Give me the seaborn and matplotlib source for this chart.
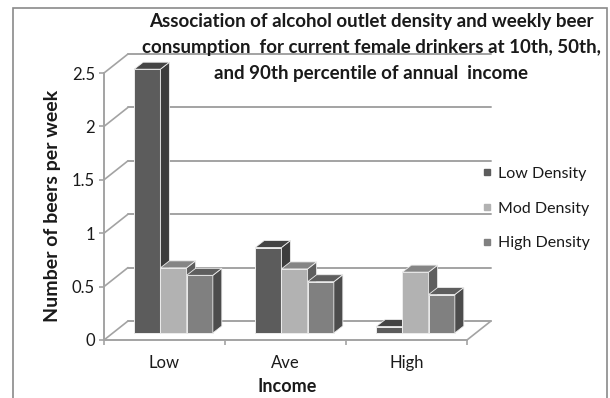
import matplotlib
matplotlib.use("Agg")
import matplotlib.pyplot as plt
from matplotlib.patches import Polygon, Rectangle
from matplotlib.lines import Line2D
import numpy as np
import pandas as pd
import seaborn as sns

# ---- data -------------------------------------------------------------
income = ["Low", "Ave", "High"]
densities = ["Low Density", "Mod Density", "High Density"]
low_density = [2.47, 0.80, 0.06]
mod_density = [0.61, 0.60, 0.57]
high_density = [0.54, 0.48, 0.36]
y_ticks = [0, 0.5, 1, 1.5, 2, 2.5]
y_tick_labels = ["0", "0.5", "1", "1.5", "2", "2.5"]

title_lines = [
    "Association of alcohol outlet density and weekly beer",
    "consumption  for current female drinkers at 10th, 50th,",
    "and 90th percentile of annual  income",
]

df = pd.DataFrame({
    "Income": income * 3,
    "Density": [d for d in densities for _ in income],
    "Beers": low_density + mod_density + high_density,
})

# face colours: front, side, top
front_cols = ["#5c5c5c", "#b2b2b2", "#808080"]
side_cols = ["#3c3c3c", "#5e5e5e", "#4c4c4c"]
top_cols = ["#444444", "#858585", "#5e5e5e"]
grid_col = "#a3a3a3"
text_col = "#1a1a1a"

sns.set_theme(style="white")
plt.rcParams["font.family"] = ["Lato", "DejaVu Sans"]

W, H = 610, 398
fig = plt.figure(figsize=(W / 100, H / 100), dpi=100)

# front plane of the 3-D box, in pixel placement
left_px, right_px, base_px, top_px = 104, 467, 340, 73
ax = fig.add_axes([left_px / W, 1 - base_px / H,
                   (right_px - left_px) / W, (base_px - top_px) / H])
ax.set_xlim(-0.5, 2.5)
ax.set_ylim(0, 2.5)

sx = (right_px - left_px) / 3.0      # pixels per category
sy = (base_px - top_px) / 2.5        # pixels per unit

def off(px, py):
    """pixel depth offset -> data units"""
    return px / sx, py / sy

# depth offsets (px): back wall, near and far planes of the bars
back = off(24, 19)
near = off(9, 7)
far = off(18, 14)

# back wall gridlines and left wall diagonals
for v in y_ticks:
    ax.plot([-0.5 + back[0], 2.5 + back[0]], [v + back[1], v + back[1]],
            color=grid_col, lw=1.4, clip_on=False, zorder=1)
    ax.plot([-0.5, -0.5 + back[0]], [v, v + back[1]],
            color=grid_col, lw=1.2, clip_on=False, zorder=1)
# right edge of the floor
ax.plot([2.5, 2.5 + back[0]], [0, back[1]], color=grid_col, lw=1.2,
        clip_on=False, zorder=1)

# bars
sns.barplot(data=df, x="Income", y="Beers", hue="Density",
            order=income, hue_order=densities, palette=front_cols,
            width=0.65, gap=0, edgecolor="#ececec", linewidth=0.7,
            legend=False, ax=ax)

for i, cont in enumerate(ax.containers):
    for bar in cont:
        x0, w, h = bar.get_x(), bar.get_width(), bar.get_height()
        bar.set_x(x0 + near[0])
        bar.set_y(near[1])
        bar.set_zorder(3 + i)
        side = Polygon([(x0 + w + near[0], near[1]), (x0 + w + far[0], far[1]),
                        (x0 + w + far[0], h + far[1]), (x0 + w + near[0], h + near[1])],
                       closed=True, facecolor=side_cols[i], edgecolor="#ececec",
                       lw=0.6, zorder=3 + i + 0.5, clip_on=False)
        top = Polygon([(x0 + near[0], h + near[1]), (x0 + w + near[0], h + near[1]),
                       (x0 + w + far[0], h + far[1]), (x0 + far[0], h + far[1])],
                      closed=True, facecolor=top_cols[i], edgecolor="#ececec",
                      lw=0.6, zorder=3 + i + 0.5, clip_on=False)
        ax.add_patch(side)
        ax.add_patch(top)
        bar.set_clip_on(False)

# axes styling
for s in ["top", "right"]:
    ax.spines[s].set_visible(False)
for s in ["left", "bottom"]:
    ax.spines[s].set_color(grid_col)
    ax.spines[s].set_linewidth(1.4)
    ax.spines[s].set_zorder(2)

ax.set_yticks(y_ticks)
ax.set_yticklabels(y_tick_labels)
ax.set_xticks(range(3))
ax.set_xticklabels(income)
ax.set_xticks([-0.5, 0.5, 1.5, 2.5], minor=True)
ax.tick_params(axis="y", which="major", left=True, length=3.5, width=1.2,
               color=grid_col, pad=3, labelsize=12, labelcolor=text_col)
ax.tick_params(axis="x", which="major", bottom=False, length=0, pad=10.5,
               labelsize=12, labelcolor=text_col)
ax.tick_params(axis="x", which="minor", bottom=True, length=3.5, width=1.2,
               color=grid_col)
ax.set_xlabel("")
ax.set_ylabel("")
ax.grid(False)
ax.set_facecolor("none")

fig.text(287 / W, 1 - 386 / H, "Income", ha="center", va="center",
         fontsize=13, fontweight="bold", color=text_col)
fig.text(53 / W, 1 - 206 / H, "Number of beers per week", ha="center",
         va="center", rotation=90, fontsize=14, fontweight="bold",
         color=text_col)

for k, line in enumerate(title_lines):
    fig.text(371 / W, 1 - (22 + 26 * k) / H, line, ha="center", va="center",
             fontsize=13.5, fontweight="bold", color=text_col, zorder=10)

# legend
handles = [Line2D([0], [0], marker="s", linestyle="none", markersize=5,
                  markerfacecolor=c, markeredgecolor=c) for c in front_cols]
fig.legend(handles, densities, loc="upper left",
           bbox_to_anchor=(476 / W, 1 - 160 / H), frameon=False,
           handlelength=0.6, handletextpad=0.35, labelspacing=1.3,
           fontsize=11.5, labelcolor=text_col, borderaxespad=0)

# chart frame
fig.patches.append(Rectangle((13 / W, -0.05), (607 - 13) / W, 1 - 8 / H + 0.05,
                             transform=fig.transFigure, fill=False,
                             edgecolor="#8a8a8a", lw=1.2))

fig.savefig("out.png", dpi=100, facecolor="white")
